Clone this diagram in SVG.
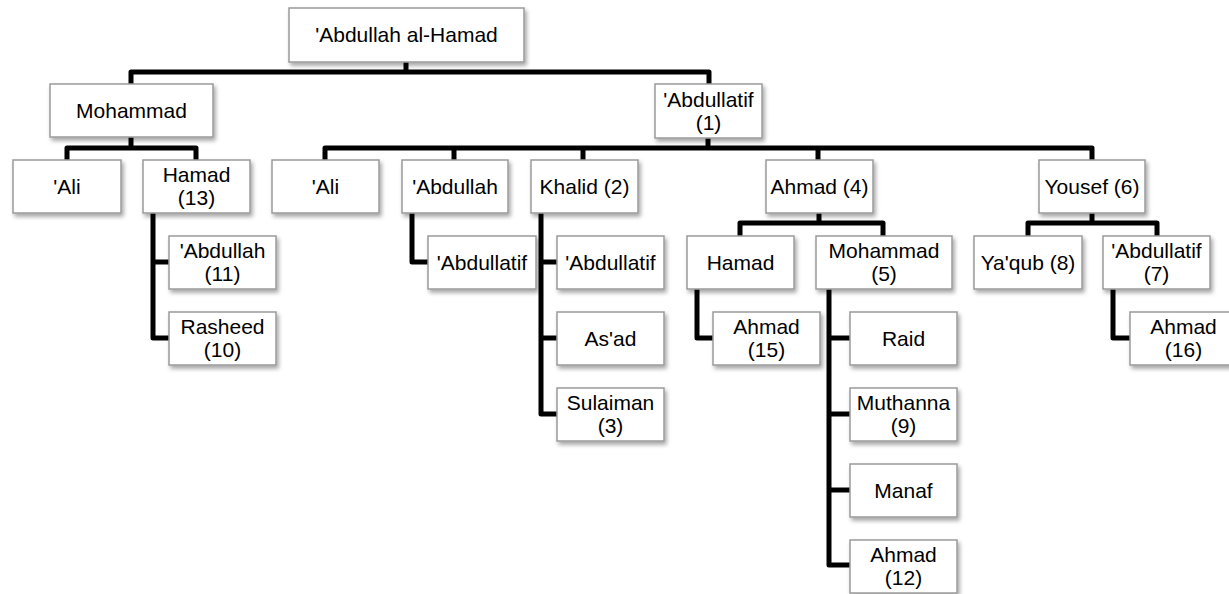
<svg xmlns="http://www.w3.org/2000/svg" width="1229" height="594" viewBox="0 0 1229 594">
<defs>
<filter id="sh" x="-10%" y="-10%" width="130%" height="140%">
<feDropShadow dx="2" dy="3" stdDeviation="2" flood-color="#000" flood-opacity="0.35"/>
</filter>
<style>
.b{fill:#fff;stroke:#9a9a9a;stroke-width:1.5;filter:url(#sh)}
.t{font-family:"Liberation Sans",Arial,sans-serif;font-size:21px;fill:#000;text-anchor:middle}
.c{fill:none;stroke:#000;stroke-width:5;stroke-linejoin:round;stroke-linecap:butt}
</style>
</defs>
<rect width="1229" height="594" fill="#fff"/>
<g id="connectors" class="c">
<path d="M406,62 V72"/>
<path d="M131,84 V72 H709 V84"/>
<path d="M131,137 V148"/>
<path d="M67,160 V148 H196 V160"/>
<path d="M708,138 V148"/>
<path d="M325,160 V148 H1092 V160"/>
<path d="M454,148 V160"/>
<path d="M583,148 V160"/>
<path d="M818,148 V160"/>
<path d="M153,213 V338 H169"/>
<path d="M153,262 H169"/>
<path d="M412,213 V262 H428"/>
<path d="M541,213 V414 H557"/>
<path d="M541,262 H557"/>
<path d="M541,338 H557"/>
<path d="M819,213 V223"/>
<path d="M740,236 V223 H883 V236"/>
<path d="M697,289 V338 H713"/>
<path d="M829,289 V565 H850"/>
<path d="M829,338 H850"/>
<path d="M829,414 H850"/>
<path d="M829,490 H850"/>
<path d="M1092,213 V223"/>
<path d="M1028,236 V223 H1157 V236"/>
<path d="M1113,289 V338 H1130"/>
</g>
<g id="root"><rect class="b" x="289" y="8" width="235" height="54"/><text class="t" x="406.5" y="42">'Abdullah al-Hamad</text></g>
<g id="mohammad"><rect class="b" x="50" y="84" width="163" height="53"/><text class="t" x="131.5" y="117.5">Mohammad</text></g>
<g id="abdullatif1"><rect class="b" x="655" y="84" width="107" height="54"/><text class="t" x="708.5" y="106.5">'Abdullatif</text><text class="t" x="708.5" y="129.5">(1)</text></g>
<g id="ali1"><rect class="b" x="13" y="160" width="108" height="53"/><text class="t" x="67" y="194">'Ali</text></g>
<g id="hamad13"><rect class="b" x="143" y="160" width="107" height="53"/><text class="t" x="196.5" y="182">Hamad</text><text class="t" x="196.5" y="205">(13)</text></g>
<g id="ali2"><rect class="b" x="272" y="160" width="107" height="53"/><text class="t" x="325.5" y="194">'Ali</text></g>
<g id="abdullah"><rect class="b" x="402" y="160" width="106" height="53"/><text class="t" x="455" y="194">'Abdullah</text></g>
<g id="khalid2"><rect class="b" x="531" y="160" width="107" height="53"/><text class="t" x="584.5" y="194">Khalid (2)</text></g>
<g id="ahmad4"><rect class="b" x="766" y="160" width="107" height="53"/><text class="t" x="819.5" y="194">Ahmad (4)</text></g>
<g id="yousef6"><rect class="b" x="1039" y="160" width="106" height="53"/><text class="t" x="1092" y="194">Yousef (6)</text></g>
<g id="abdullah11"><rect class="b" x="169" y="236" width="107" height="53"/><text class="t" x="222.5" y="258">'Abdullah</text><text class="t" x="222.5" y="281">(11)</text></g>
<g id="rasheed10"><rect class="b" x="169" y="312" width="107" height="53"/><text class="t" x="222.5" y="334">Rasheed</text><text class="t" x="222.5" y="357">(10)</text></g>
<g id="abdullatif-a"><rect class="b" x="428" y="236" width="108" height="53"/><text class="t" x="482" y="270">'Abdullatif</text></g>
<g id="abdullatif-k"><rect class="b" x="557" y="236" width="107" height="53"/><text class="t" x="610.5" y="270">'Abdullatif</text></g>
<g id="asad"><rect class="b" x="557" y="312" width="107" height="53"/><text class="t" x="610.5" y="346">As'ad</text></g>
<g id="sulaiman3"><rect class="b" x="557" y="388" width="107" height="53"/><text class="t" x="610.5" y="410">Sulaiman</text><text class="t" x="610.5" y="433">(3)</text></g>
<g id="hamad"><rect class="b" x="687" y="236" width="107" height="53"/><text class="t" x="740.5" y="270">Hamad</text></g>
<g id="mohammad5"><rect class="b" x="816" y="236" width="136" height="53"/><text class="t" x="884" y="258">Mohammad</text><text class="t" x="884" y="281">(5)</text></g>
<g id="ahmad15"><rect class="b" x="713" y="312" width="107" height="53"/><text class="t" x="766.5" y="334">Ahmad</text><text class="t" x="766.5" y="357">(15)</text></g>
<g id="raid"><rect class="b" x="850" y="312" width="107" height="53"/><text class="t" x="903.5" y="346">Raid</text></g>
<g id="muthanna9"><rect class="b" x="850" y="388" width="107" height="53"/><text class="t" x="903.5" y="410">Muthanna</text><text class="t" x="903.5" y="433">(9)</text></g>
<g id="manaf"><rect class="b" x="850" y="464" width="107" height="53"/><text class="t" x="903.5" y="498">Manaf</text></g>
<g id="ahmad12"><rect class="b" x="850" y="540" width="107" height="53"/><text class="t" x="903.5" y="562">Ahmad</text><text class="t" x="903.5" y="585">(12)</text></g>
<g id="yaqub8"><rect class="b" x="974" y="236" width="108" height="53"/><text class="t" x="1028" y="270">Ya'qub (8)</text></g>
<g id="abdullatif7"><rect class="b" x="1103" y="236" width="107" height="53"/><text class="t" x="1156.5" y="258">'Abdullatif</text><text class="t" x="1156.5" y="281">(7)</text></g>
<g id="ahmad16"><rect class="b" x="1130" y="312" width="107" height="53"/><text class="t" x="1183.5" y="334">Ahmad</text><text class="t" x="1183.5" y="357">(16)</text></g>
</svg>
